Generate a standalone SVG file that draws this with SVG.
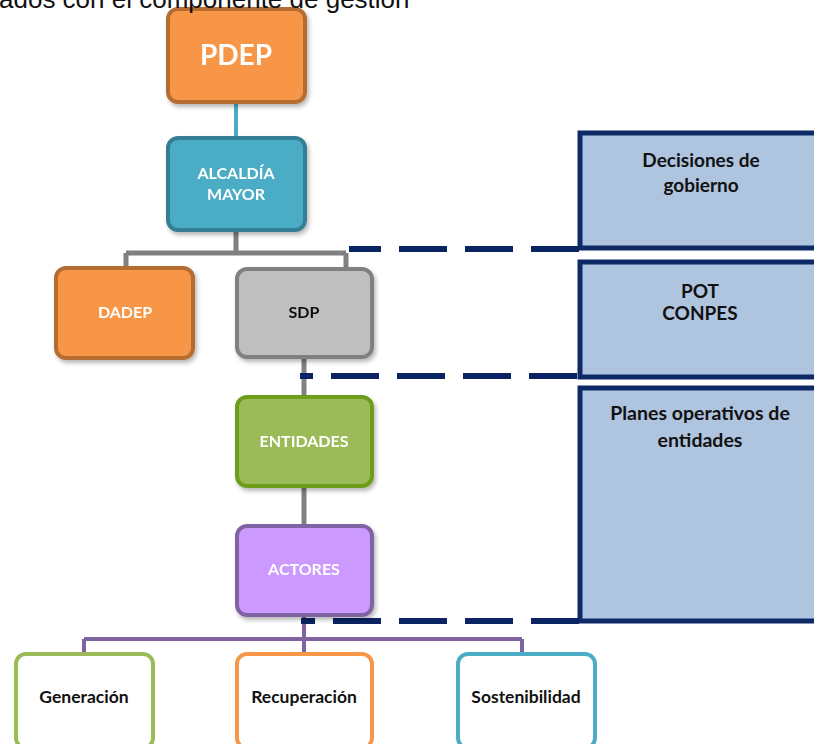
<svg xmlns="http://www.w3.org/2000/svg" width="814" height="744" viewBox="0 0 814 744">
<defs>
<style>
.lbl{font-family:Lato,"Open Sans","Liberation Sans",sans-serif;font-weight:bold;text-anchor:middle}
.w{fill:#ffffff}
.k{fill:#111111}
.node{stroke-width:4}
.panel{fill:#AFC4DF;stroke:#0E2A66;stroke-width:5}
.dash{fill:none;stroke:#0A2463;stroke-width:6;stroke-dasharray:48 18}
</style>
<filter id="sh" x="-10%" y="-10%" width="130%" height="130%">
<feDropShadow dx="2" dy="3" stdDeviation="2" flood-color="#000" flood-opacity="0.28"/>
</filter>
</defs>
<rect width="814" height="744" fill="#ffffff"/>

<g id="panels">
<g id="panel-decisiones">
<rect class="panel" x="580" y="133" width="260" height="115"/>
<text class="lbl k" x="701" y="167" font-size="19">Decisiones de</text>
<text class="lbl k" x="701" y="192" font-size="19">gobierno</text>
</g>
<g id="panel-pot">
<rect class="panel" x="580" y="262" width="260" height="115"/>
<text class="lbl k" x="700" y="298" font-size="19">POT</text>
<text class="lbl k" x="700" y="320" font-size="19">CONPES</text>
</g>
<g id="panel-planes">
<rect class="panel" x="580" y="388" width="260" height="233"/>
<text class="lbl k" x="700" y="420" font-size="19.5">Planes operativos de</text>
<text class="lbl k" x="700" y="447" font-size="19.5">entidades</text>
</g>
</g>

<g id="connectors">
<line x1="236" y1="103" x2="236" y2="138" stroke="#4BACC6" stroke-width="4"/>
<path d="M236 231 V253 M126 253 H346 M126 253 V268 M346 253 V268" fill="none" stroke="#808080" stroke-width="5"/>
<line x1="304" y1="359" x2="304" y2="397" stroke="#808080" stroke-width="5"/>
<line x1="304" y1="488" x2="304" y2="525" stroke="#808080" stroke-width="5"/>
<path d="M304 617 V653 M84 639 H522 M84 639 V653 M522 639 V653" fill="none" stroke="#8064A2" stroke-width="4"/>
<line class="dash" x1="349" y1="249" x2="581" y2="249" stroke-dashoffset="16"/>
<line class="dash" x1="300" y1="376" x2="581" y2="376" stroke-dashoffset="35"/>
<line class="dash" x1="301" y1="621" x2="581" y2="621" stroke-dashoffset="34"/>
</g>

<g id="node-pdep" filter="url(#sh)">
<rect class="node" x="168" y="9" width="137" height="93" rx="10" fill="#F79646" stroke="#B66D31"/>
<text class="lbl w" x="236" y="65" font-size="28">PDEP</text>
</g>
<g id="node-alcaldia" filter="url(#sh)">
<rect class="node" x="168" y="138" width="137" height="92" rx="10" fill="#4BACC6" stroke="#357F94"/>
<text class="lbl w" x="236" y="179" font-size="16">ALCALDÍA</text>
<text class="lbl w" x="236" y="200" font-size="16">MAYOR</text>
</g>
<g id="node-dadep" filter="url(#sh)">
<rect class="node" x="56" y="268" width="137" height="90" rx="10" fill="#F79646" stroke="#B66D31"/>
<text class="lbl w" x="125" y="318" font-size="16">DADEP</text>
</g>
<g id="node-sdp" filter="url(#sh)">
<rect class="node" x="237" y="269" width="135" height="88" rx="10" fill="#BFBFBF" stroke="#808080"/>
<text class="lbl k" x="304" y="318" font-size="16">SDP</text>
</g>
<g id="node-entidades" filter="url(#sh)">
<rect class="node" x="237" y="397" width="135" height="89" rx="10" fill="#9BBB59" stroke="#6C9E1E"/>
<text class="lbl w" x="304" y="447" font-size="16">ENTIDADES</text>
</g>
<g id="node-actores" filter="url(#sh)">
<rect class="node" x="237" y="526" width="135" height="89" rx="10" fill="#CC99FF" stroke="#8064A2"/>
<text class="lbl w" x="304" y="575" font-size="16">ACTORES</text>
</g>
<g id="node-generacion">
<rect class="node" x="16" y="654" width="137" height="94" rx="10" fill="#ffffff" stroke="#9BBB59"/>
<text class="lbl k" x="84" y="703" font-size="17.5">Generación</text>
</g>
<g id="node-recuperacion">
<rect class="node" x="237" y="654" width="135" height="94" rx="10" fill="#ffffff" stroke="#F79646"/>
<text class="lbl k" x="304" y="703" font-size="17.5">Recuperación</text>
</g>
<g id="node-sostenibilidad">
<rect class="node" x="458" y="654" width="137" height="94" rx="10" fill="#ffffff" stroke="#4BACC6"/>
<text class="lbl k" x="526" y="703" font-size="17.5">Sostenibilidad</text>
</g>

<text x="-1" y="8" font-family="'Liberation Sans',Arial,sans-serif" font-size="26" fill="#111">ados con el componente de gestión</text>
</svg>
